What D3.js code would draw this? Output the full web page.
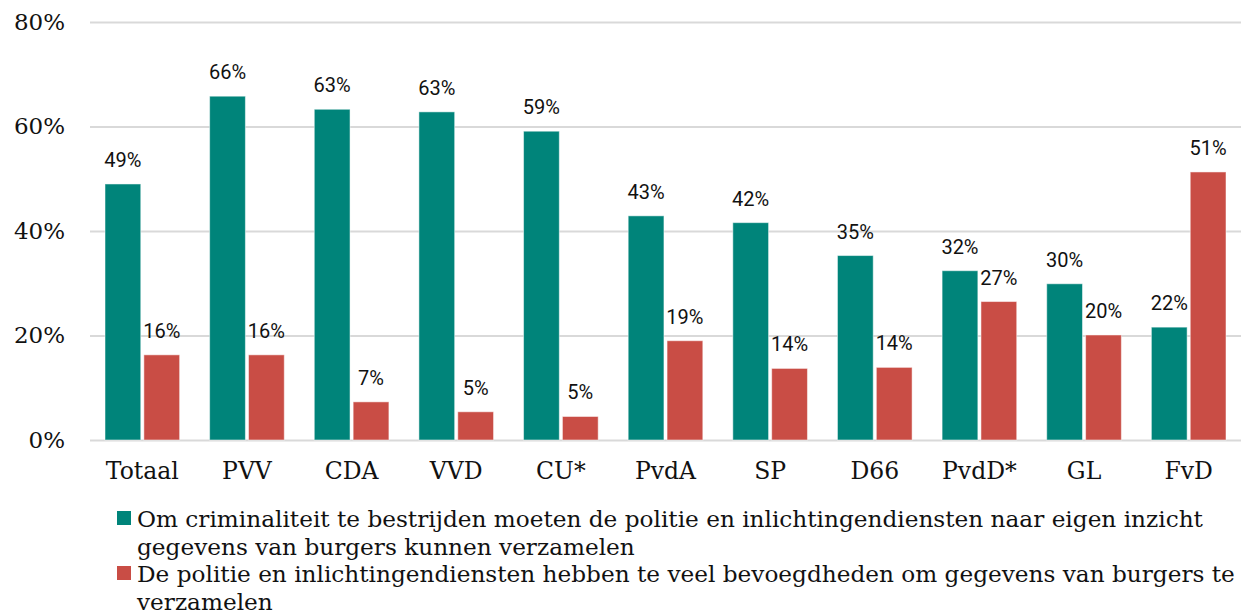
<!DOCTYPE html>
<html>
<head>
<meta charset="utf-8">
<script src="https://cdn.jsdelivr.net/npm/d3@7"></script>
<style>
  body { margin: 0; background: #fff; }
</style>
</head>
<body>
<svg width="1243" height="615"></svg>
<script>
  const parties = ['Totaal', 'PVV', 'CDA', 'VVD', 'CU*', 'PvdA', 'SP', 'D66', 'PvdD*', 'GL', 'FvD'];
  const verzamelen = [49.0, 65.8, 63.3, 62.8, 59.1, 42.9, 41.6, 35.3, 32.4, 29.9, 21.6];
  const teVeel = [16.3, 16.3, 7.3, 5.4, 4.5, 19.0, 13.7, 13.9, 26.5, 20.1, 51.3];
  const yTicks = [0, 20, 40, 60, 80];
  const seriesNames = [
    ['Om criminaliteit te bestrijden moeten de politie en inlichtingendiensten naar eigen inzicht',
     'gegevens van burgers kunnen verzamelen'],
    ['De politie en inlichtingendiensten hebben te veel bevoegdheden om gegevens van burgers te',
     'verzamelen']
  ];
  const colors = ['#00847a', '#c94d45'];
  const serif = "'DejaVu Serif', serif";

  const svg = d3.select('svg');
  const margin = { top: 22, left: 90, right: 2, bottom: 175 };
  const width = +svg.attr('width');
  const height = +svg.attr('height');
  const innerWidth = width - margin.left - margin.right;
  const innerHeight = height - margin.top - margin.bottom;

  const data = parties.map((p, i) => ({ party: p, values: [verzamelen[i], teVeel[i]] }));

  const xScale = d3.scaleBand()
    .domain(parties)
    .range([0, innerWidth])
    .paddingInner(0)
    .paddingOuter(0);

  const xInner = d3.scaleBand()
    .domain([0, 1])
    .range([15, xScale.bandwidth() - 15])
    .paddingInner(0.08);

  const yScale = d3.scaleLinear()
    .domain([0, 80])
    .range([innerHeight, 0]);

  const g = svg.append('g')
    .attr('transform', `translate(${margin.left},${margin.top})`);

  const yAxis = d3.axisLeft(yScale)
    .tickValues(yTicks)
    .tickSize(-innerWidth)
    .tickPadding(25)
    .tickFormat(d => d + '%');

  const yAxisG = g.append('g').call(yAxis)
    .attr('font-family', serif)
    .attr('font-size', 23);
  yAxisG.select('.domain').remove();
  yAxisG.selectAll('.tick line')
    .attr('stroke', '#d9d9d9')
    .attr('stroke-width', 2);
  yAxisG.selectAll('.tick text').attr('fill', '#111');

  const xAxis = d3.axisBottom(xScale).tickSize(0).tickPadding(22);
  const xAxisG = g.append('g').call(xAxis)
    .attr('transform', `translate(0,${innerHeight})`)
    .attr('font-family', serif)
    .attr('font-size', 23.5);
  xAxisG.select('.domain').remove();
  xAxisG.selectAll('.tick text').attr('fill', '#111');

  const groups = g.selectAll('.group').data(data)
    .enter().append('g')
      .attr('class', 'group')
      .attr('transform', d => `translate(${xScale(d.party)},0)`);

  groups.selectAll('rect').data(d => d.values)
    .enter().append('rect')
      .attr('x', (d, i) => xInner(i))
      .attr('y', d => yScale(d))
      .attr('width', xInner.bandwidth())
      .attr('height', d => innerHeight - yScale(d))
      .attr('fill', (d, i) => colors[i])
      .attr('stroke', '#ffffff')
      .attr('stroke-opacity', 0.5)
      .attr('stroke-width', 1);

  groups.selectAll('.value').data(d => d.values)
    .enter().append('text')
      .attr('class', 'value')
      .attr('x', (d, i) => xInner(i) + xInner.bandwidth() / 2)
      .attr('y', d => yScale(d) - 17)
      .attr('text-anchor', 'middle')
      .attr('font-family', 'Roboto, sans-serif')
      .attr('font-size', 20)
      .attr('fill', '#111')
      .text(d => Math.round(d) + '%');

  const legend = svg.append('g')
    .attr('transform', 'translate(117,0)');

  const lineH = 27.5;
  seriesNames.forEach((lines, i) => {
    const top = 511 + i * 2 * lineH;
    legend.append('rect')
      .attr('x', 0)
      .attr('y', top)
      .attr('width', 14)
      .attr('height', 14)
      .attr('fill', colors[i]);
    const t = legend.append('text')
      .attr('x', 20)
      .attr('y', top + 16)
      .attr('font-family', serif)
      .attr('font-size', 23.2)
      .attr('fill', '#111');
    lines.forEach((line, j) => {
      t.append('tspan')
        .attr('x', 20)
        .attr('dy', j === 0 ? 0 : lineH)
        .text(line);
    });
  });
</script>
</body>
</html>
